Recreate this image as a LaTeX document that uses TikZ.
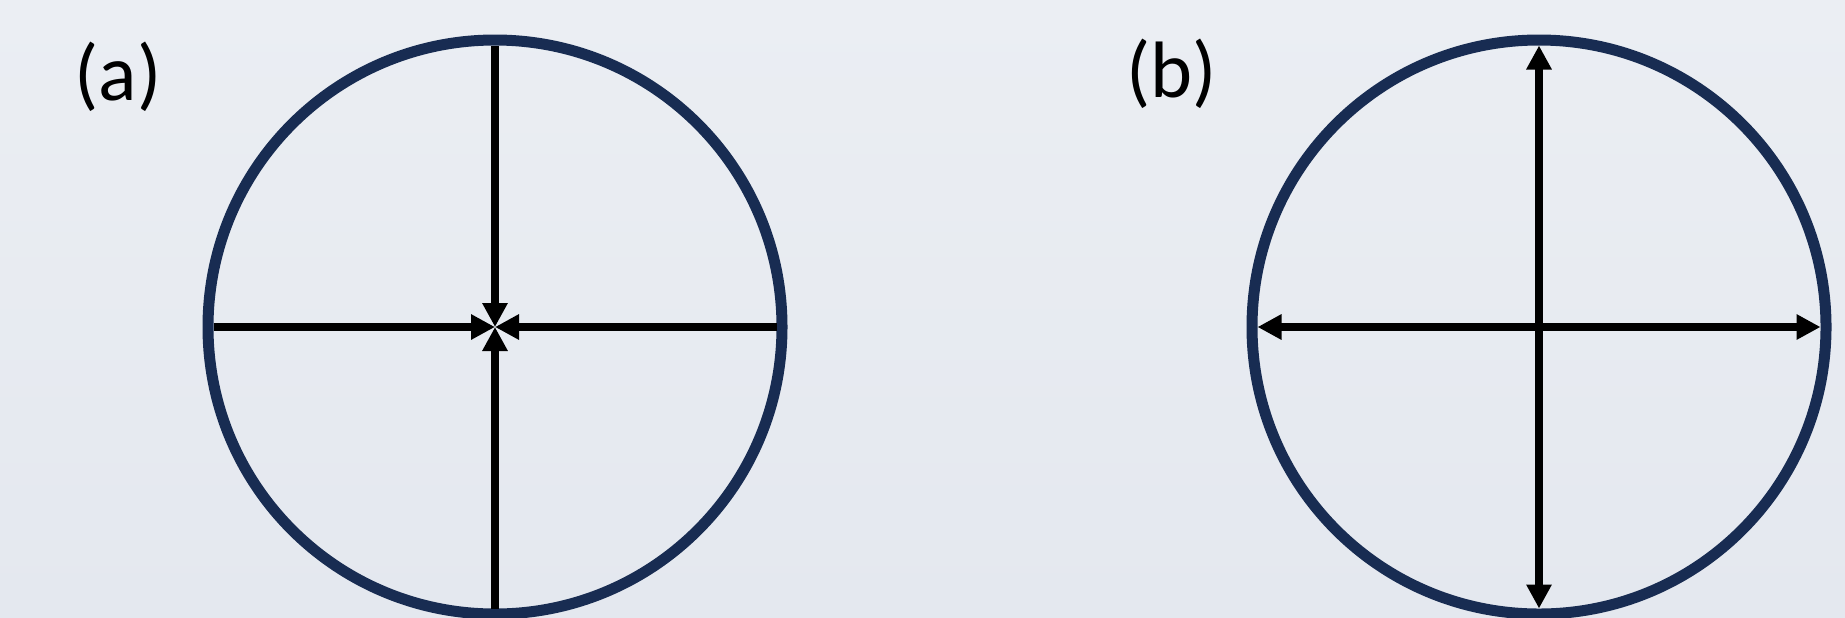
\documentclass[tikz,border=0pt]{standalone}
\usepackage{fontspec}
\setmainfont{Carlito}
\usetikzlibrary{arrows.meta}
\definecolor{ringblue}{RGB}{24,44,82}
\definecolor{bgtop}{RGB}{235,238,243}
\definecolor{bgbot}{RGB}{228,232,239}
\tikzset{
  ring/.style={circle, draw=ringblue, line width=5.5pt, minimum size=287pt, inner sep=0pt, outer sep=0pt},
  ray/.style={line width=4pt, draw=black, -{Triangle[length=12pt,width=12pt]}},
  tag/.style={inner sep=0pt, font=\fontsize{40}{48}\selectfont}
}
\begin{document}
\begin{tikzpicture}[x=0.5pt,y=-0.5pt]
\useasboundingbox (0,0) rectangle (1845,617);
\clip (0,0) rectangle (1845,617);
\shade[top color=bgtop, bottom color=bgbot] (0,0) rectangle (1845,617);
% (a)
\node[tag] (la) at (118,77) {(a)};
\node[ring] (ca) at (495,327) {};
\draw[ray, shorten <=2.75pt] (ca.north) -- (ca.center);
\draw[ray, shorten <=2.75pt] (ca.south) -- (ca.center);
\draw[ray, shorten <=2.75pt] (ca.west) -- (ca.center);
\draw[ray, shorten <=2.75pt] (ca.east) -- (ca.center);
% (b)
\node[tag] (lb) at (1172,74) {(b)};
\node[ring] (cb) at (1539,327) {};
\draw[ray, shorten >=2.75pt] (cb.center) -- (cb.north);
\draw[ray, shorten >=2.75pt] (cb.center) -- (cb.south);
\draw[ray, shorten >=2.75pt] (cb.center) -- (cb.west);
\draw[ray, shorten >=2.75pt] (cb.center) -- (cb.east);
\end{tikzpicture}
\end{document}
